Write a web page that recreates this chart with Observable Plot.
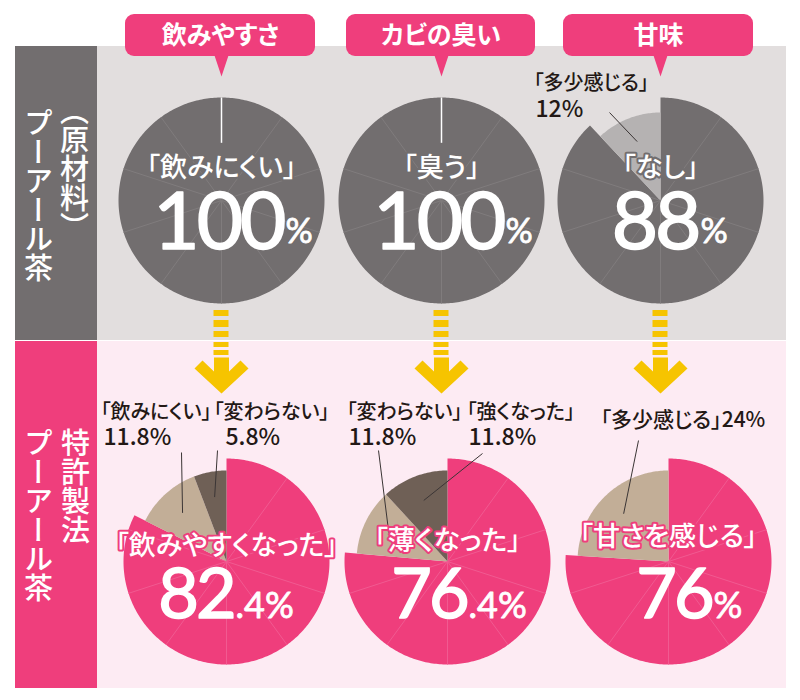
<!DOCTYPE html>
<html><head><meta charset="utf-8">
<script src="https://cdn.jsdelivr.net/npm/d3@7"></script>
<script src="https://cdn.jsdelivr.net/npm/@observablehq/plot@0.6"></script>
<style>
body{margin:0;background:#fff;}
svg text{font-feature-settings:"palt";}
</style></head><body><div id="chart"></div>
<script>
// ---------- DATA ----------
const categories = ["飲みやすさ", "カビの臭い", "甘味"];
const rowLabelsTop = ["（原材料）", "プーアール茶"];
const rowLabelsBottom = ["特許製法", "プーアール茶"];

const topMainLabels = ["「飲みにくい」", "「臭う」", "「なし」"];
const topMainValues = [100, 100, 88];
const topMinorLabels = [[], [], ["「多少感じる」"]];
const topMinorValues = [[], [], [12]];

const bottomMainLabels = ["「飲みやすくなった」", "「薄くなった」", "「甘さを感じる」"];
const bottomMainValues = [82.4, 76.4, 76];
const bottomMinorLabels = [["「飲みにくい」", "「変わらない」"], ["「変わらない」", "「強くなった」"], ["「多少感じる」"]];
const bottomMinorValues = [[11.8, 5.8], [11.8, 11.8], [24]];

// ---------- LAYOUT & STYLE ----------
const COL = {pink:"#ef3e7c", pinkBg:"#fdebf3", grayBg:"#e2dede", darkGray:"#726e6f",
  lightGray:"#b5b2b2", tan:"#c2ae97", brown:"#6f6056", yellow:"#f6c400", text:"#231815"};
const JP = "'Noto Sans CJK JP', 'Noto Sans', sans-serif";
const NUM = "Lato, 'Noto Sans', sans-serif";
const pillX = [[125, 315], [346, 535], [563, 753]];
const topCx = [221, 441, 660], botCx = [226, 447, 668];
const topCy = 200, botCy = 561, R = 103, rMinorTop = 88, rMinorBot = 91;
const topSplit = [283, 503, 698], botSplit = [233, 466, 711];
const botLabelY = [546, 541, 537];
const topMinorPos = [[], [], [{lx:533, ly:83, px:535, py:109, sx:609, sy:112}]];
const botMinorPos = [
  [{lx:100, ly:412, px:103, py:437, sx:181, sy:452}, {lx:213, ly:412, px:225, py:437, sx:217, sy:450}],
  [{lx:346, ly:412, px:348, py:437, sx:378, sy:450}, {lx:466, ly:412, px:468, py:437, sx:482, sy:453}],
  [{lx:600, ly:420, inline:true, sx:638, sy:440}]
];

const fmt = v => Number.isInteger(v) ? `${v}` : v.toFixed(1);
const rad = d => d * Math.PI / 180;
const px = (cx, r, a) => cx + r * Math.sin(rad(a));
const py = (cy, r, a) => cy - r * Math.cos(rad(a));

// ---------- BUILD GEOMETRY ----------
const slicePts = [], decoLinks = [], whiteLinks = [], leaders = [];
const centerTexts = [], mainNums = [], suffixes = [], minorTexts = [];
let sid = 0;
function arc(cx, cy, r, a0, a1, color) {
  const id = sid++;
  const n = Math.max(2, Math.ceil(a1 - a0));
  slicePts.push({x: cx, y: cy, id, color});
  for (let k = 0; k <= n; k++) {
    const a = a0 + (a1 - a0) * k / n;
    slicePts.push({x: px(cx, r, a), y: py(cy, r, a), id, color});
  }
  slicePts.push({x: cx, y: cy, id, color});
}
function buildPie(row, i) {
  const top = row === 0;
  const cx = top ? topCx[i] : botCx[i], cy = top ? topCy : botCy;
  const mainV = top ? topMainValues[i] : bottomMainValues[i];
  const minors = top ? topMinorValues[i] : bottomMinorValues[i];
  const mLabels = top ? topMinorLabels[i] : bottomMinorLabels[i];
  const pos = top ? topMinorPos[i] : botMinorPos[i];
  const mainC = top ? COL.darkGray : COL.pink;
  const minorC = top ? [COL.lightGray] : [COL.tan, COL.brown];
  const rMin = top ? rMinorTop : rMinorBot;
  const mainEnd = mainV / 100 * 360;
  arc(cx, cy, R, 0, mainEnd, mainC);
  let a = mainEnd;
  minors.forEach((v, j) => {
    const a1 = a + v / 100 * 360;
    arc(cx, cy, rMin, a, a1, minorC[j]);
    const mid = (a + a1) / 2, p = pos[j];
    leaders.push({x1: p.sx, y1: p.sy, x2: px(cx, rMin * 0.72, mid), y2: py(cy, rMin * 0.72, mid)});
    if (p.inline) {
      minorTexts.push({x: p.lx, y: p.ly, t: `${mLabels[j]}${fmt(v)}%`, fs: 21});
    } else {
      minorTexts.push({x: p.lx, y: p.ly, t: mLabels[j], fs: 20});
      minorTexts.push({x: p.px, y: p.py, t: `${fmt(v)}%`, fs: 23});
    }
    a = a1;
  });
  for (let k = 1; k < 10; k++) {
    const ang = k * 36;
    if (ang < mainEnd - 2) decoLinks.push({x1: cx, y1: cy, x2: px(cx, R, ang), y2: py(cy, R, ang),
      c: top ? "#807c7d" : "#f15a91"});
  }
  if (mainV >= 100) whiteLinks.push({x1: cx, y1: cy - R * 0.56, x2: cx, y2: cy - R});
  const s = top ? topSplit[i] : botSplit[i];
  const whole = Math.floor(mainV), frac = mainV - whole;
  centerTexts.push({x: cx, y: top ? 168 : botLabelY[i], t: top ? topMainLabels[i] : bottomMainLabels[i], halo: mainC});
  mainNums.push({x: s, y: top ? 248 : 617, t: `${whole}`, fs: top ? 80 : 70});
  suffixes.push({x: s + 2, y: top ? 242 : 617, t: (frac > 0 ? `.${Math.round(frac * 10)}` : "") + "%", fs: top ? 34 : 36});
}
[0, 1].forEach(row => [0, 1, 2].forEach(i => buildPie(row, i)));

const panels = [
  {x1: 15, x2: 97, y1: 46, y2: 340, c: COL.darkGray},
  {x1: 97, x2: 786, y1: 46, y2: 340, c: COL.grayBg},
  {x1: 15, x2: 97, y1: 341, y2: 688, c: COL.pink},
  {x1: 97, x2: 786, y1: 341, y2: 688, c: COL.pinkBg}
];
const pills = pillX.map(([x1, x2]) => ({x1, x2, y1: 14, y2: 56}));
const pointerPts = [];
pillX.forEach(([x1, x2], i) => {
  const cx = topCx[i];
  [[cx - 7, 55], [cx + 7, 55], [cx, 76]].forEach(([x, y]) => pointerPts.push({x, y, id: i}));
});
const dashes = [], arrowPts = [];
const dashY = [[310, 316], [320, 327], [331, 337], [342, 347], [350, 355]];
topCx.forEach((cx, i) => {
  dashY.forEach(([y1, y2]) => dashes.push({x1: cx - 7.5, x2: cx + 7.5, y1, y2}));
  [[-7.5, 357], [7.5, 357], [7.5, 371], [19, 360], [27, 368], [0, 393], [-27, 368], [-19, 360], [-7.5, 371]]
    .forEach(([dx, y]) => arrowPts.push({x: cx + dx, y, id: i}));
});
const headerTexts = categories.map((t, i) => ({t, x: (pillX[i][0] + pillX[i][1]) / 2, y: 35}));
const vertTexts = [
  {t: rowLabelsTop[0], x: 74, y: 96}, {t: rowLabelsTop[1], x: 38, y: 108},
  {t: rowLabelsBottom[0], x: 75, y: 428}, {t: rowLabelsBottom[1], x: 38, y: 428}
];

// ---------- PLOT ----------
const numOpts = (anchor) => ({x: "x", y: "y", text: "t", fontSize: "fs", fontFamily: NUM, textAnchor: anchor, lineAnchor: "bottom"});
const plot = Plot.plot({
  width: 800, height: 700, margin: 0,
  x: {domain: [0, 800], range: [0, 800], axis: null},
  y: {domain: [0, 700], range: [0, 700], axis: null},
  color: {type: "identity"},
  style: {background: "#ffffff"},
  marks: [
    Plot.rect(panels, {x1: "x1", x2: "x2", y1: "y1", y2: "y2", fill: "c"}),
    Plot.rect(pills, {x1: "x1", x2: "x2", y1: "y1", y2: "y2", fill: COL.pink, rx: 9}),
    Plot.line(pointerPts, {x: "x", y: "y", z: "id", fill: COL.pink, stroke: "none"}),
    Plot.rect(dashes, {x1: "x1", x2: "x2", y1: "y1", y2: "y2", fill: COL.yellow}),
    Plot.line(arrowPts, {x: "x", y: "y", z: "id", fill: COL.yellow, stroke: "none"}),
    Plot.line(slicePts, {x: "x", y: "y", z: "id", fill: "color", stroke: "none"}),
    Plot.link(decoLinks, {x1: "x1", y1: "y1", x2: "x2", y2: "y2", stroke: "c", strokeWidth: 1}),
    Plot.link(whiteLinks, {x1: "x1", y1: "y1", x2: "x2", y2: "y2", stroke: "#ffffff", strokeWidth: 1.5}),
    Plot.link(leaders, {x1: "x1", y1: "y1", x2: "x2", y2: "y2", stroke: "#3b3535", strokeWidth: 1}),
    Plot.text(headerTexts, {x: "x", y: "y", text: "t", fill: "#ffffff", fontSize: 25, fontWeight: 600, fontFamily: JP}),
    Plot.text(vertTexts, {x: "x", y: "y", text: "t", fill: "#ffffff", fontSize: 29, fontWeight: 500, fontFamily: JP, textAnchor: "start", lineAnchor: "bottom"}),
    Plot.text(minorTexts, {x: "x", y: "y", text: "t", fill: COL.text, fontSize: "fs", fontWeight: 500, fontFamily: JP, textAnchor: "start"}),
    Plot.text(centerTexts, {x: "x", y: "y", text: "t", fill: "#ffffff", stroke: "halo", strokeWidth: 4, fontSize: 27, fontWeight: 500, fontFamily: JP}),
    Plot.text(mainNums, {...numOpts("end"), fill: "#ffffff", stroke: "#ffffff", strokeWidth: 1.6}),
    Plot.text(suffixes, {...numOpts("start"), fill: "#ffffff", stroke: "#ffffff", strokeWidth: 0.8})
  ]
});
const vset = new Set(vertTexts.map(d => d.t));
plot.querySelectorAll("text").forEach(el => {
  if (vset.has(el.textContent)) {
    el.setAttribute("writing-mode", "vertical-rl");
    el.style.writingMode = "vertical-rl";
    el.style.fontFeatureSettings = "normal";
    el.removeAttribute("y");
    el.removeAttribute("dy");
  }
  if (/^\d+$/.test(el.textContent)) el.style.letterSpacing = "-3px";
});
document.getElementById("chart").appendChild(plot);
</script></body></html>
